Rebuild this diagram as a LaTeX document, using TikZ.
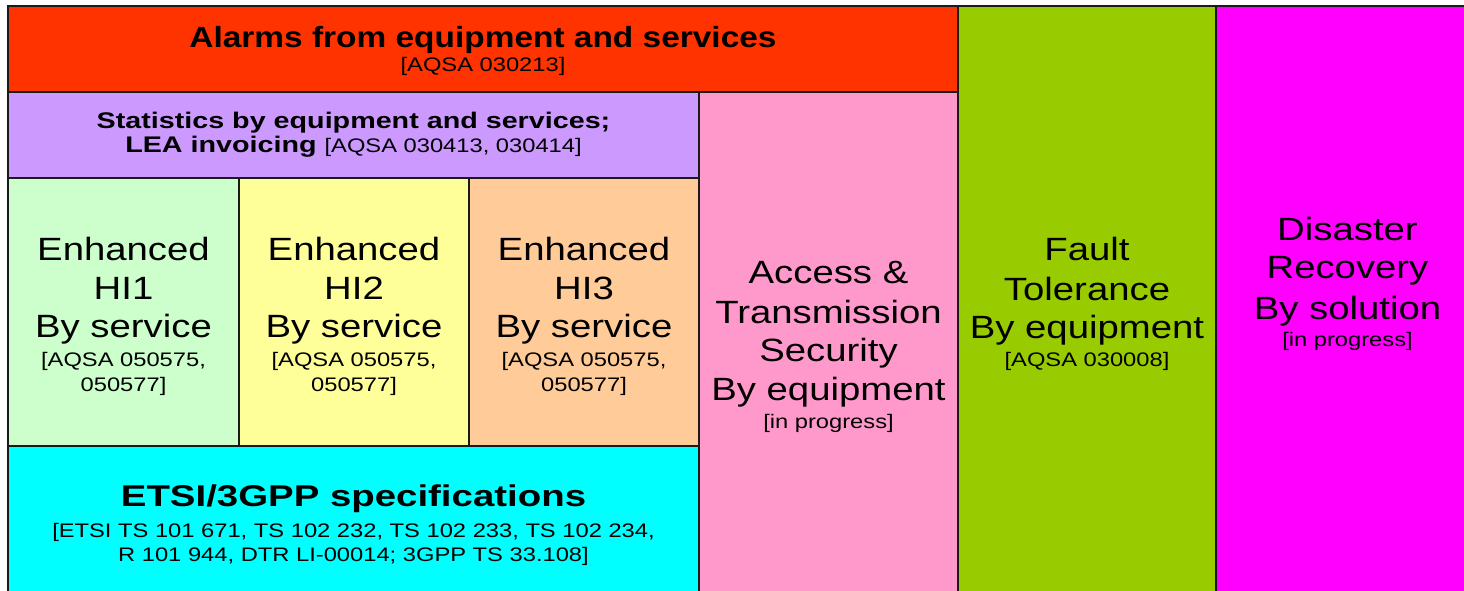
\documentclass[tikz,border=0pt]{standalone}
\usepackage{fontspec}
\setmainfont{Liberation Sans}
\definecolor{cRed}{HTML}{FF3300}
\definecolor{cPurple}{HTML}{CC99FF}
\definecolor{cLGreen}{HTML}{CCFFCC}
\definecolor{cYellow}{HTML}{FFFF99}
\definecolor{cOrange}{HTML}{FFCC99}
\definecolor{cCyan}{HTML}{00FFFF}
\definecolor{cPink}{HTML}{FF99CC}
\definecolor{cGreen}{HTML}{99CC00}
\definecolor{cMagenta}{HTML}{FF00FF}
\definecolor{cLine}{HTML}{1A1A1A}
\tikzset{
  panel/.style={draw=cLine, line width=1pt, inner sep=0pt, outer sep=0pt, anchor=north west},
  txt/.style={inner sep=0pt, outer sep=0pt, anchor=base, text=black},
  bigtxt/.style={txt, font=\fontsize{16.1}{18}\selectfont\addfontfeature{FakeStretch=1.19}},
  reftxt/.style={txt, font=\fontsize{9.8}{11}\selectfont\addfontfeature{FakeStretch=1.21}},
  titletxt/.style={txt, font=\fontsize{14.6}{17}\selectfont\bfseries\addfontfeature{FakeStretch=1.145}},
  statstxt/.style={txt, font=\fontsize{11.3}{13}\selectfont\bfseries\addfontfeature{FakeStretch=1.27}},
  etsitxt/.style={txt, font=\fontsize{15}{17}\selectfont\bfseries\addfontfeature{FakeStretch=1.28}},
}
\newcommand\refpart{\fontsize{9.8}{11}\mdseries\selectfont\addfontfeature{FakeStretch=1.21}}
\begin{document}
\begin{tikzpicture}[x=0.5pt, y=-0.5pt]
\useasboundingbox (0,0) rectangle (1464,590);
\clip (0,0) rectangle (1464,590);
\fill[white] (0,0) rectangle (1464,590);
% panels
\node[panel, fill=cRed, minimum width=475pt, minimum height=43pt] (alarms) at (8,6) {};
\node[panel, fill=cPurple, minimum width=345.5pt, minimum height=43pt] (stats) at (8,92) {};
\node[panel, fill=cLGreen, minimum width=115.5pt, minimum height=134pt] (hione) at (8,178) {};
\node[panel, fill=cYellow, minimum width=115pt, minimum height=134pt] (hitwo) at (239,178) {};
\node[panel, fill=cOrange, minimum width=115pt, minimum height=134pt] (hithree) at (469,178) {};
\node[panel, fill=cCyan, minimum width=345.5pt, minimum height=77pt] (etsi) at (8,446) {};
\node[panel, fill=cPink, minimum width=129.5pt, minimum height=254pt] (access) at (699,92) {};
\node[panel, fill=cGreen, minimum width=129pt, minimum height=297pt] (fault) at (958,6) {};
\node[panel, fill=cMagenta, minimum width=132pt, minimum height=297pt] (disaster) at (1216,6) {};
% alarms
\node[titletxt] (alarmsA) at (483,47.3) {Alarms from equipment and services};
\node[reftxt] (alarmsB) at (483,71.7) {[AQSA 030213]};
% statistics
\node[statstxt] (statsA) at (353.5,128.3) {Statistics by equipment and services;};
\node[statstxt] (statsB) at (353.5,152.3) {LEA invoicing {\refpart[AQSA 030413, 030414]}};
% HI1
\node[bigtxt] (hioneA) at (123.5,260.7) {Enhanced};
\node[bigtxt] (hioneB) at (123.5,299) {HI1};
\node[bigtxt] (hioneC) at (123.5,337.3) {By service};
\node[reftxt] (hioneD) at (123.5,366) {[AQSA 050575,};
\node[reftxt] (hioneE) at (123.5,391) {050577]};
% HI2
\node[bigtxt] (hitwoA) at (354,260.7) {Enhanced};
\node[bigtxt] (hitwoB) at (354,299) {HI2};
\node[bigtxt] (hitwoC) at (354,337.3) {By service};
\node[reftxt] (hitwoD) at (354,366) {[AQSA 050575,};
\node[reftxt] (hitwoE) at (354,391) {050577]};
% HI3
\node[bigtxt] (hithreeA) at (584,260.7) {Enhanced};
\node[bigtxt] (hithreeB) at (584,299) {HI3};
\node[bigtxt] (hithreeC) at (584,337.3) {By service};
\node[reftxt] (hithreeD) at (584,366) {[AQSA 050575,};
\node[reftxt] (hithreeE) at (584,391) {050577]};
% ETSI
\node[etsitxt] (etsiA) at (353.5,506) {ETSI/3GPP specifications};
\node[reftxt] (etsiB) at (353.5,537) {[ETSI TS 101 671, TS 102 232, TS 102 233, TS 102 234,};
\node[reftxt] (etsiC) at (353.5,561) {R 101 944, DTR LI-00014; 3GPP TS 33.108]};
% access
\node[bigtxt] (accessA) at (828.5,283.3) {Access \&};
\node[bigtxt] (accessB) at (828.5,323.3) {Transmission};
\node[bigtxt] (accessC) at (828.5,361.7) {Security};
\node[bigtxt] (accessD) at (828.5,400.7) {By equipment};
\node[reftxt] (accessE) at (828.5,428) {[in progress]};
% fault
\node[bigtxt] (faultA) at (1087,260) {Fault};
\node[bigtxt] (faultB) at (1087,300) {Tolerance};
\node[bigtxt] (faultC) at (1087,338.3) {By equipment};
\node[reftxt] (faultD) at (1087,366.7) {[AQSA 030008]};
% disaster
\node[bigtxt] (disasterA) at (1347.5,240.7) {Disaster};
\node[bigtxt] (disasterB) at (1347.5,278.3) {Recovery};
\node[bigtxt] (disasterC) at (1347.5,319.3) {By solution};
\node[reftxt] (disasterD) at (1347.5,346.7) {[in progress]};
\end{tikzpicture}
\end{document}
